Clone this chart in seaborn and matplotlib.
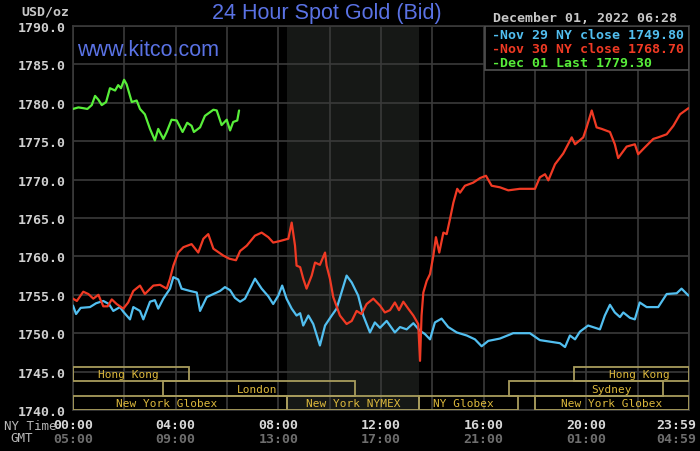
"""
24 Hour Spot Gold (Bid) chart in the kitco style.
"""

import numpy as np
import pandas as pd
import matplotlib
matplotlib.use("Agg")
import matplotlib.pyplot as plt
from matplotlib.patches import Rectangle
from matplotlib.transforms import ScaledTranslation
import seaborn as sns

# Data (hours since 00:00 NY time, USD/oz)
nov29_hours = [0.0, 0.12, 0.3, 0.66, 0.9, 1.18, 1.4, 1.57, 1.83, 1.96, 2.22, 2.35, 2.61, 2.74,
               3.0, 3.19, 3.32, 3.52, 3.78, 3.91, 4.10, 4.23, 4.56, 4.82, 4.95, 5.21, 5.47,
               5.73, 5.92, 6.12, 6.31, 6.51, 6.70, 7.09, 7.35, 7.61, 7.80, 8.0, 8.15, 8.32,
               8.52, 8.71, 8.85, 8.97, 9.17, 9.36, 9.62, 9.82, 10.08, 10.27, 10.46, 10.66,
               10.86, 11.11, 11.31, 11.57, 11.76, 11.96, 12.22, 12.54, 12.74, 13.0, 13.26,
               13.52, 13.71, 13.91, 14.10, 14.36, 14.62, 14.95, 15.34, 15.66, 15.92, 16.18,
               16.63, 17.15, 17.8, 18.19, 18.58, 18.97, 19.17, 19.36, 19.56, 19.75, 20.07,
               20.53, 20.72, 20.92, 21.11, 21.31, 21.44, 21.70, 21.89, 22.08, 22.35, 22.80,
               23.13, 23.52, 23.71, 23.98]
nov29_price = [1753.6, 1752.5, 1753.3, 1753.4, 1753.9, 1754.2, 1753.8, 1752.9, 1753.4, 1752.8,
               1751.8, 1753.4, 1752.9, 1751.8, 1754.1, 1754.3, 1753.2, 1754.5, 1755.8, 1757.3,
               1757.0, 1755.8, 1755.5, 1755.3, 1752.9, 1754.7, 1755.1, 1755.5, 1756.0, 1755.6,
               1754.6, 1754.1, 1754.5, 1757.1, 1755.8, 1754.8, 1753.8, 1754.9, 1756.2, 1754.5,
               1753.2, 1752.3, 1752.6, 1751.0, 1752.3, 1751.2, 1748.4, 1751.0, 1752.3, 1753.2,
               1755.3, 1757.5, 1756.6, 1754.9, 1752.3, 1750.1, 1751.4, 1750.7, 1751.6, 1750.1,
               1750.8, 1750.5, 1751.3, 1750.3, 1749.9, 1749.2, 1751.4, 1751.9, 1750.8, 1750.1,
               1749.7, 1749.2, 1748.3, 1749.0, 1749.3, 1750.0, 1750.0, 1749.1, 1748.9, 1748.7,
               1748.2, 1749.7, 1749.2, 1750.2, 1751.0, 1750.5, 1752.3, 1753.7, 1752.7, 1752.1,
               1752.7, 1752.0, 1751.8, 1754.0, 1753.4, 1753.4, 1755.1, 1755.2, 1755.8, 1754.9]

nov30_hours = [0.0, 0.15, 0.40, 0.6, 0.79, 0.99, 1.18, 1.35, 1.51, 1.70, 1.96, 2.15, 2.35, 2.61,
               2.80, 3.13, 3.39, 3.65, 3.78, 3.91, 4.10, 4.30, 4.62, 4.88, 5.08, 5.27, 5.47,
               5.86, 6.09, 6.35, 6.51, 6.77, 7.09, 7.35, 7.61, 7.80, 8.06, 8.39, 8.52, 8.65,
               8.71, 8.85, 8.97, 9.10, 9.30, 9.43, 9.62, 9.82, 9.88, 10.01, 10.14, 10.40,
               10.66, 10.86, 11.05, 11.24, 11.44, 11.70, 11.96, 12.15, 12.35, 12.54, 12.7,
               12.87, 13.06, 13.26, 13.45, 13.52, 13.58, 13.65, 13.78, 13.91, 14.04, 14.14,
               14.27, 14.43, 14.56, 14.69, 14.82, 14.97, 15.08, 15.27, 15.59, 15.86, 16.09,
               16.31, 16.63, 16.96, 17.41, 18.0, 18.19, 18.39, 18.52, 18.78, 19.10, 19.43,
               19.56, 19.88, 20.01, 20.21, 20.40, 20.60, 20.92, 21.11, 21.24, 21.57, 21.89,
               22.02, 22.28, 22.61, 22.80, 23.13, 23.39, 23.65, 23.98]
nov30_price = [1754.5, 1754.2, 1755.4, 1755.1, 1754.5, 1755.0, 1753.5, 1753.5, 1754.4, 1753.8,
               1753.2, 1754.0, 1755.5, 1756.2, 1755.1, 1756.2, 1756.3, 1755.8, 1757.1, 1758.8,
               1760.5, 1761.2, 1761.6, 1760.5, 1762.3, 1762.9, 1761.0, 1760.1, 1759.7, 1759.5,
               1760.7, 1761.4, 1762.7, 1763.1, 1762.5, 1761.8, 1762.0, 1762.3, 1764.4, 1761.4,
               1758.8, 1758.6, 1757.1, 1755.8, 1757.5, 1759.2, 1758.9, 1760.5, 1758.8, 1757.1,
               1754.7, 1752.3, 1751.2, 1751.6, 1752.9, 1752.5, 1753.8, 1754.5, 1753.6, 1752.7,
               1753.0, 1754.0, 1753.0, 1754.1, 1753.2, 1752.3, 1751.2, 1746.4, 1752.3, 1755.3,
               1756.8, 1757.7, 1760.1, 1762.5, 1760.5, 1763.1, 1762.9, 1764.9, 1767.0, 1768.8,
               1768.3, 1769.2, 1769.6, 1770.2, 1770.5, 1769.2, 1769.0, 1768.6, 1768.8, 1768.8,
               1770.3, 1770.7, 1769.9, 1772.0, 1773.4, 1775.5, 1774.6, 1775.5, 1776.8, 1779.0,
               1776.8, 1776.6, 1776.2, 1774.6, 1772.8, 1774.3, 1774.6, 1773.3, 1774.2, 1775.3,
               1775.5, 1775.9, 1777.0, 1778.5, 1779.3]

dec01_hours = [0.0, 0.21, 0.40, 0.56, 0.73, 0.86, 0.99, 1.12, 1.29, 1.44, 1.64, 1.76, 1.87, 1.99,
               2.09, 2.29, 2.48, 2.61, 2.80, 3.0, 3.19, 3.32, 3.52, 3.65, 3.84, 4.04, 4.27,
               4.45, 4.62, 4.71, 4.95, 5.14, 5.47, 5.60, 5.79, 5.99, 6.12, 6.24, 6.40, 6.47]
dec01_price = [1779.2, 1779.4, 1779.3, 1779.2, 1779.7, 1780.9, 1780.4, 1779.7, 1780.1, 1781.9,
               1781.6, 1782.3, 1781.9, 1783.0, 1782.4, 1780.1, 1780.3, 1779.2, 1778.5, 1776.6,
               1775.1, 1776.6, 1775.3, 1776.2, 1777.8, 1777.7, 1776.2, 1777.4, 1777.0, 1776.2,
               1776.8, 1778.3, 1779.1, 1779.0, 1777.1, 1777.8, 1776.4, 1777.5, 1777.7, 1779.0]

legend_lines = ["-Nov 29 NY close 1749.80",
                "-Nov 30 NY close 1768.70",
                "-Dec 01 Last 1779.30"]

ny_ticks = [0, 4, 8, 12, 16, 20, 24]
ny_labels = ["00:00", "04:00", "08:00", "12:00", "16:00", "20:00", "23:59"]
gmt_labels = ["05:00", "09:00", "13:00", "17:00", "21:00", "01:00", "04:59"]

# NYMEX pit hours (shaded band)
nymex_start, nymex_end = 8.33, 13.5

# trading sessions: (name, start hour, end hour, row, label hour)
sessions = [
    ("New York Globex", 0.0, 8.33, 0, 3.65),
    ("New York NYMEX", 8.33, 13.5, 0, 10.9),
    ("NY Globex", 13.5, 17.35, 0, 15.2),
    ("New York Globex", 18.0, 24.0, 0, 21.0),
    ("London", 3.5, 11.0, 1, 7.17),
    ("Sydney", 17.0, 23.0, 1, 20.97),
    ("Hong Kong", 0.0, 4.5, 2, 2.14),
    ("Hong Kong", 19.5, 24.0, 2, 22.05),
]

BLUE = "#52bff0"
RED = "#f03a24"
GREEN = "#58ee3a"
GRID = "#3a3a3a"
SESSION_EDGE = "#a89c5c"
SESSION_TEXT = "#dcb83c"
TITLE_BLUE = "#5a72e4"

sns.set_theme(style="dark", rc={
    "figure.facecolor": "black",
    "axes.facecolor": "black",
    "savefig.facecolor": "black",
})
plt.rcParams["font.family"] = ["DejaVu Sans Mono", "DejaVu Sans"]

fig = plt.figure(figsize=(7, 4.52), dpi=100)
ax = fig.add_axes([73 / 700, 41 / 452, 616 / 700, 384 / 452])

# shaded NYMEX hours
ax.axvspan(nymex_start, nymex_end, color="#161816", zorder=0, lw=0)

df29 = pd.DataFrame({"hour": nov29_hours, "price": nov29_price})
df30 = pd.DataFrame({"hour": nov30_hours, "price": nov30_price})
df01 = pd.DataFrame({"hour": dec01_hours, "price": dec01_price})
sns.lineplot(data=df29, x="hour", y="price", ax=ax, color=BLUE, lw=1.6, estimator=None, zorder=4)
sns.lineplot(data=df30, x="hour", y="price", ax=ax, color=RED, lw=1.6, estimator=None, zorder=5)
sns.lineplot(data=df01, x="hour", y="price", ax=ax, color=GREEN, lw=1.6, estimator=None, zorder=6)

ax.set_xlim(0, 24)
ax.set_ylim(1740, 1790)
ax.set_xlabel("")
ax.set_ylabel("")

yt = np.arange(1740, 1791, 5)
ax.set_yticks(yt)
ax.set_yticklabels([f"{v:.1f}" for v in yt], color="#d0d0d0", fontsize=9.5, fontweight="bold")
ax.set_xticks(ny_ticks)
ax.set_xticklabels(ny_labels, color="#d8d8d8", fontsize=9.5, fontweight="bold")
ax.set_xticks(np.arange(0, 25, 2), minor=True)
ax.tick_params(axis="both", which="both", length=0)
ax.tick_params(axis="x", pad=6)
ax.tick_params(axis="y", pad=5)
ax.grid(True, which="both", color=GRID, lw=1.2, zorder=1)
ax.set_axisbelow(True)
for sp in ax.spines.values():
    sp.set_color(GRID)
    sp.set_linewidth(1.2)

# last label ("23:59") sits a bit inside the right edge
shift_left = ScaledTranslation(-13 / 100, 0, fig.dpi_scale_trans)
last_lab = ax.get_xticklabels()[-1]
last_lab.set_transform(last_lab.get_transform() + shift_left)

# GMT row under the NY times
xtrans = ax.get_xaxis_transform()
for i, (t, lab) in enumerate(zip(ny_ticks, gmt_labels)):
    tr = xtrans + shift_left if i == len(ny_ticks) - 1 else xtrans
    ax.text(t, -0.073, lab, transform=tr, ha="center", va="center",
            color="#6e6e6e", fontsize=9.5, fontweight="bold", clip_on=False)

# session boxes along the bottom
row_h = 14.3 / 384
for name, start, end, row, lab_x in sessions:
    ax.add_patch(Rectangle((start, row * row_h), end - start, row_h, transform=xtrans,
                           fill=False, edgecolor=SESSION_EDGE, lw=1.3, zorder=3))
    ax.text(lab_x, (row + 0.5) * row_h, name, transform=xtrans, ha="center", va="center",
            color=SESSION_TEXT, fontsize=8, zorder=3)

# legend box, top right
ax.add_patch(Rectangle((0.669, 0.885), 0.331, 0.115, transform=ax.transAxes,
                       facecolor="black", edgecolor="#505050", lw=1.2, zorder=7))
for i, (txt, col) in enumerate(zip(legend_lines, [BLUE, RED, GREEN])):
    ax.text(0.680, 0.979 - i * 0.037, txt, transform=ax.transAxes, ha="left", va="center",
            color=col, fontsize=9.5, fontweight="bold", zorder=8)

# header texts
fig.text(327 / 700, 1 - 14 / 452, "24 Hour Spot Gold (Bid)", ha="center", va="center",
         color=TITLE_BLUE, fontsize=15.5, family="Liberation Sans")
fig.text(77 / 700, 1 - 50 / 452, "www.kitco.com", ha="left", va="center",
         color=TITLE_BLUE, fontsize=15.5, family="Liberation Sans", zorder=9)
fig.text(45 / 700, 1 - 12 / 452, "USD/oz", ha="center", va="center",
         color="#c8c8c8", fontsize=9.5, fontweight="bold")
fig.text(677 / 700, 1 - 19 / 452, "December 01, 2022 06:28", ha="right", va="center",
         color="#c8c8c8", fontsize=9.5, fontweight="bold")
fig.text(4 / 700, 1 - 427 / 452, "NY Time", ha="left", va="center",
         color="#b8b8b8", fontsize=9)
fig.text(22 / 700, 1 - 439 / 452, "GMT", ha="center", va="center",
         color="#b8b8b8", fontsize=9)

fig.savefig("out.png", dpi=100)
plt.close(fig)
